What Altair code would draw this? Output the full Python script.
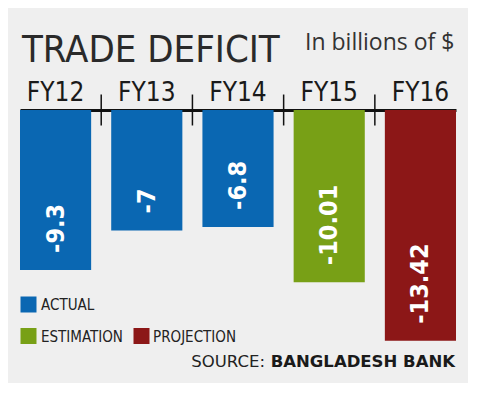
import altair as alt
import pandas as pd

categories = ["FY12", "FY13", "FY14", "FY15", "FY16"]
values = [-9.3, -7, -6.8, -10.01, -13.42]
labels = ["-9.3", "-7", "-6.8", "-10.01", "-13.42"]
kinds = ["ACTUAL", "ACTUAL", "ACTUAL", "ESTIMATION", "PROJECTION"]
kind_names = ["ACTUAL", "ESTIMATION", "PROJECTION"]
kind_colors = ["#0a67b2", "#78a016", "#8c1717"]

COND = "DejaVu Sans Condensed"

df = pd.DataFrame({"year": categories, "value": values, "label": labels, "kind": kinds})

x_enc = alt.X(
    "year:N", sort=categories,
    scale=alt.Scale(paddingInner=0.22, paddingOuter=0),
    axis=alt.Axis(orient="top", title=None, ticks=False, labelAngle=0,
                  labelFont=COND, labelFontSize=26, labelColor="#1a1a1a",
                  labelPadding=10, labelBaseline="alphabetic",
                  domainColor="#111111", domainWidth=3),
)
y_enc = alt.Y("value:Q", scale=alt.Scale(domain=[-15, 0], nice=False), axis=None)
color_scale = alt.Scale(domain=kind_names, range=kind_colors)

bars = alt.Chart(df).mark_bar().encode(
    x=x_enc, y=y_enc,
    color=alt.Color("kind:N", scale=color_scale, legend=None),
)

value_text = alt.Chart(df).mark_text(
    angle=270, align="left", baseline="middle", dx=17,
    font=COND, fontSize=25, fontWeight="bold", color="white",
).encode(x=alt.X("year:N", sort=categories), y="value:Q", text="label:N")

tick_df = pd.DataFrame({"year": categories[1:]})
ticks = alt.Chart(tick_df).mark_rule(color="#111111", strokeWidth=1.5, xOffset=-10).encode(
    x=alt.X("year:N", sort=categories, bandPosition=0),
    y=alt.datum(0.9), y2=alt.datum(-0.9),
)


def note(text, x, y, **kw):
    return alt.Chart(pd.DataFrame({"t": [text]})).mark_text(**kw).encode(
        x=alt.value(x), y=alt.value(y), text="t:N"
    )


def swatch(kind, x, y):
    return alt.Chart(pd.DataFrame({"kind": [kind]})).mark_square(size=256, opacity=1).encode(
        x=alt.value(x), y=alt.value(y),
        color=alt.Color("kind:N", scale=color_scale, legend=None),
    )


title = note("TRADE DEFICIT", 2, -48, align="left", baseline="alphabetic",
             font=COND, fontSize=38, color="#2a2a2a")
unit = note("In billions of $", 285, -60, align="left", baseline="alphabetic",
            font="Open Sans", fontSize=23, color="#333333")

leg = [
    swatch("ACTUAL", 8.5, 194.5),
    note("ACTUAL", 21, 200, align="left", baseline="alphabetic", font=COND, fontSize=15, color="#222222"),
    swatch("ESTIMATION", 8.5, 226),
    note("ESTIMATION", 21, 231.5, align="left", baseline="alphabetic", font=COND, fontSize=15, color="#222222"),
    swatch("PROJECTION", 121.5, 226),
    note("PROJECTION", 133, 231.5, align="left", baseline="alphabetic", font=COND, fontSize=15, color="#222222"),
]

src1 = note("SOURCE:", 245, 257, align="right", baseline="alphabetic",
            font="DejaVu Sans", fontSize=16.5, color="#222222")
src2 = note("BANGLADESH BANK", 435, 257, align="right", baseline="alphabetic",
            font="DejaVu Sans", fontSize=16.5, fontWeight="bold", color="#1a1a1a")

chart = alt.layer(bars, ticks, value_text, title, unit, *leg, src1, src2).properties(
    width=436, height=258,
    autosize=alt.AutoSizeParams(type="none"),
    padding={"left": 12, "top": 102, "right": 12, "bottom": 15},
    background="#efefef",
).configure_view(stroke=None)

chart.save("out.html", embed_options={"renderer": "svg", "actions": False})
